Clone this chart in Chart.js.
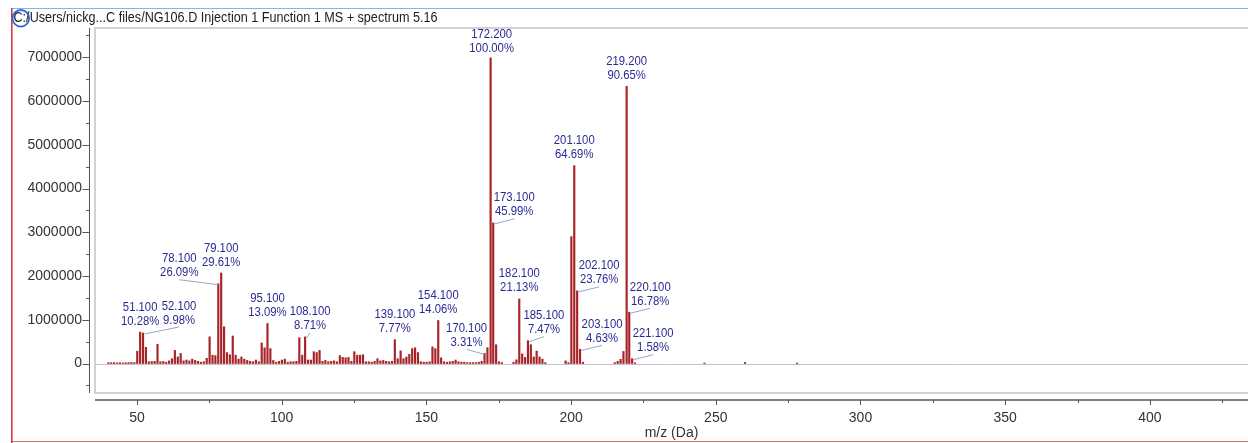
<!DOCTYPE html>
<html>
<head>
<meta charset="utf-8">
<script src="https://cdn.jsdelivr.net/npm/chart.js@4.4.1/dist/chart.umd.min.js"></script>
<style>
  html, body { margin: 0; padding: 0; background: #fff; }
  #wrap { position: relative; width: 1248px; height: 443px; }
</style>
</head>
<body>
<div id="wrap"><canvas id="ms"></canvas></div>
<script>
// stick spectrum, m/z and intensity (counts)
const mzValues = [
  40.1, 41.1, 42.1, 43.1, 44.1, 45.1, 46.1, 47.1, 48.1, 49.1,
  50.1, 51.1, 52.1, 53.1, 54.1, 55.1, 56.1, 57.1, 58.1, 59.1,
  60.1, 61.1, 62.1, 63.1, 64.1, 65.1, 66.1, 67.1, 68.1, 69.1,
  70.1, 71.1, 72.1, 73.1, 74.1, 75.1, 76.1, 77.1, 78.1, 79.1,
  80.1, 81.1, 82.1, 83.1, 84.1, 85.1, 86.1, 87.1, 88.1, 89.1,
  90.1, 91.1, 92.1, 93.1, 94.1, 95.1, 96.1, 97.1, 98.1, 99.1,
  100.1, 101.1, 102.1, 103.1, 104.1, 105.1, 106.1, 107.1, 108.1, 109.1,
  110.1, 111.1, 112.1, 113.1, 114.1, 115.1, 116.1, 117.1, 118.1, 119.1,
  120.1, 121.1, 122.1, 123.1, 124.1, 125.1, 126.1, 127.1, 128.1, 129.1,
  130.1, 131.1, 132.1, 133.1, 134.1, 135.1, 136.1, 137.1, 138.1, 139.1,
  140.1, 141.1, 142.1, 143.1, 144.1, 145.1, 146.1, 147.1, 148.1, 149.1,
  150.1, 151.1, 152.1, 153.1, 154.1, 155.1, 156.1, 157.1, 158.1, 159.1,
  160.1, 161.1, 162.1, 163.1, 164.1, 165.1, 166.1, 167.1, 168.1, 169.1,
  170.1, 171.1, 172.2, 173.1, 174.1, 175.1, 176.1, 180.1, 181.1, 182.1,
  183.1, 184.1, 185.1, 186.1, 187.1, 188.1, 189.1, 190.1, 191.1, 198.1,
  199.1, 200.1, 201.1, 202.1, 203.1, 204.1, 215.1, 216.1, 217.1, 218.1,
  219.2, 220.1, 221.1, 222.1, 246.1, 260.1, 278.1
];
const intensities = [
  20000, 18000, 22000, 15000, 20000, 15000, 18000, 22000, 25000, 20000,
  280000, 718600, 697600, 370000, 40000, 45000, 50000, 440000, 40000, 45000,
  30000, 60000, 110000, 300000, 150000, 230000, 60000, 80000, 60000, 100000,
  70000, 50000, 30000, 40000, 120000, 610000, 190000, 180000, 1823700, 2069700,
  840000, 250000, 200000, 630000, 190000, 100000, 150000, 100000, 70000, 50000,
  40000, 80000, 40000, 470000, 360000, 915000, 340000, 70000, 30000, 50000,
  80000, 100000, 30000, 40000, 40000, 50000, 590000, 190000, 608800, 80000,
  80000, 270000, 250000, 300000, 50000, 70000, 40000, 50000, 60000, 40000,
  180000, 140000, 130000, 140000, 50000, 270000, 190000, 190000, 200000, 40000,
  40000, 30000, 50000, 110000, 60000, 70000, 50000, 40000, 50000, 543100,
  110000, 290000, 110000, 150000, 210000, 340000, 360000, 250000, 40000, 30000,
  30000, 40000, 380000, 340000, 982800, 130000, 40000, 30000, 40000, 50000,
  80000, 40000, 30000, 30000, 20000, 20000, 20000, 20000, 30000, 50000,
  231400, 360000, 6990000, 3214700, 430000, 40000, 20000, 30000, 85000, 1477000,
  220000, 140000, 522200, 430000, 150000, 285000, 150000, 100000, 20000, 60000,
  20000, 2900000, 4521800, 1660800, 323600, 30000, 20000, 50000, 95000, 275000,
  6336400, 1172900, 110400, 15000, 10000, 25000, 10000
];

// annotated peaks
const labelMz = [51.1, 52.1, 78.1, 79.1, 95.1, 108.1, 139.1, 154.1, 170.1, 172.2,
  173.1, 182.1, 185.1, 201.1, 202.1, 203.1, 219.2, 220.1, 221.1];
const labelPct = ['10.28%', '9.98%', '26.09%', '29.61%', '13.09%', '8.71%', '7.77%', '14.06%', '3.31%', '100.00%',
  '45.99%', '21.13%', '7.47%', '64.69%', '23.76%', '4.63%', '90.65%', '16.78%', '1.58%'];

const xTickValues = [50, 75, 100, 125, 150, 175, 200, 225, 250, 275, 300, 325, 350, 375, 400, 425];
const yTickValues = [-500000, 0, 500000, 1000000, 1500000, 2000000, 2500000, 3000000, 3500000,
  4000000, 4500000, 5000000, 5500000, 6000000, 6500000, 7000000, 7500000];

const titleText = 'C:/Users/nickg...C files/NG106.D Injection 1 Function 1 MS + spectrum 5.16';

// label nudges (pixels) where the software moved a label aside
const labelShift = { 52.1: [36, -2], 78.1: [-39, 0], 108.1: [5, 0], 170.1: [-18, 0], 173.1: [21, 0],
  185.1: [16, 0], 202.1: [22, 0], 203.1: [22, 0], 220.1: [21, 0], 221.1: [21, 0], 172.2: [1, 2] };

const labelFont = '13px "Liberation Sans", Arial, sans-serif';

function hline(ctx, x1, x2, y) { ctx.beginPath(); ctx.moveTo(x1, y); ctx.lineTo(x2, y); ctx.stroke(); }
function vline(ctx, x, y1, y2) { ctx.beginPath(); ctx.moveTo(x, y1); ctx.lineTo(x, y2); ctx.stroke(); }

const spectrumDecor = {
  id: 'spectrumDecor',
  beforeDatasetsDraw(chart) {
    const { ctx, chartArea: a, scales: { x, y } } = chart;
    ctx.save();
    // plot frame
    ctx.strokeStyle = '#d2d2d2';
    ctx.lineWidth = 2;
    ctx.strokeRect(a.left, a.top, a.right - a.left + 4, a.bottom - a.top);
    // zero line
    ctx.strokeStyle = '#c4c4c4';
    ctx.lineWidth = 1;
    hline(ctx, a.left, a.right, Math.round(y.getPixelForValue(0)) + 0.5);

    // y axis
    ctx.strokeStyle = '#555';
    ctx.lineWidth = 1;
    const ax = a.left - 5.5;
    vline(ctx, ax, a.top, a.bottom);
    yTickValues.forEach(v => {
      const py = Math.round(y.getPixelForValue(v)) + 0.5;
      hline(ctx, ax - (v % 1000000 === 0 ? 7 : 3.5), ax, py);
    });

    // x axis
    const ay = a.bottom + 7;
    ctx.lineWidth = 1.6;
    hline(ctx, a.left, a.right, ay);
    ctx.lineWidth = 1;
    xTickValues.forEach(v => {
      const px = Math.round(x.getPixelForValue(v)) + 0.5;
      vline(ctx, px, ay, ay + (v % 50 === 0 ? 5 : 3));
    });
    ctx.restore();
  },
  afterDatasetsDraw(chart) {
    const { ctx, scales: { x, y } } = chart;
    ctx.save();
    ctx.font = labelFont;
    ctx.textAlign = 'center';
    ctx.textBaseline = 'middle';
    labelMz.forEach((m, i) => {
      const k = mzValues.indexOf(m);
      const bx = x.getPixelForValue(m);
      const top = y.getPixelForValue(intensities[k]);
      const sh = labelShift[m] || [0, 0];
      const lx = bx + sh[0];
      const l2 = top - 11 + sh[1];
      const l1 = l2 - 14;
      if (Math.abs(sh[0]) > 3) {
        ctx.strokeStyle = '#9aa2cc';
        ctx.lineWidth = 1;
        ctx.beginPath();
        ctx.moveTo(bx + (sh[0] > 0 ? 1.5 : 0), top + 1);
        ctx.lineTo(lx, l2 + 7);
        ctx.stroke();
      }
      ctx.fillStyle = '#2a2a92';
      [[m.toFixed(3), l1], [labelPct[i], l2]].forEach(([t, ty]) => {
        ctx.save();
        ctx.translate(lx, ty);
        ctx.scale(0.87, 1);
        ctx.fillText(t, 0, 0);
        ctx.restore();
      });
    });
    ctx.restore();
  },
  afterDraw(chart) {
    const { ctx, width, height } = chart;
    ctx.save();
    // window borders
    ctx.strokeStyle = '#8fb0e6';
    ctx.lineWidth = 1;
    hline(ctx, 12, width, 8.5);
    ctx.strokeStyle = '#e06a6a';
    ctx.lineWidth = 1;
    hline(ctx, 12, width, 441.5);
    ctx.strokeStyle = '#d83c3c';
    ctx.lineWidth = 1.6;
    vline(ctx, 11.8, 8, height);
    // header text
    ctx.fillStyle = '#1c1c1c';
    ctx.font = '14px "Liberation Sans", Arial, sans-serif';
    ctx.textBaseline = 'middle';
    ctx.textAlign = 'left';
    ctx.fillText(titleText, 13.5, 18.5, 424);
    // selection ring around the drive letter
    ctx.strokeStyle = '#2b68d8';
    ctx.lineWidth = 1.8;
    ctx.beginPath();
    ctx.arc(20.8, 18.3, 8.3, 0, Math.PI * 2);
    ctx.stroke();
    ctx.restore();
  }
};

new Chart(document.getElementById('ms'), {
  type: 'bar',
  data: {
    datasets: [{
      data: mzValues.map((m, i) => ({ x: m, y: intensities[i] })),
      backgroundColor: '#a62328',
      borderWidth: 0,
      barThickness: 1.5
    }]
  },
  options: {
    responsive: true,
    maintainAspectRatio: false,
    animation: false,
    layout: { padding: { top: 28, left: 0, right: 0, bottom: 0 } },
    plugins: { legend: { display: false }, tooltip: { enabled: false } },
    scales: {
      x: {
        type: 'linear',
        min: 35.5,
        max: 433.9,
        offset: false,
        grid: { display: false, drawTicks: false },
        border: { display: false },
        afterBuildTicks: s => { s.ticks = xTickValues.map(v => ({ value: v })); },
        afterFit: s => { s.height = 50; },
        ticks: {
          autoSkip: false,
          maxRotation: 0,
          padding: 17,
          color: '#333',
          font: { family: '"Liberation Sans", Arial, sans-serif', size: 14 },
          callback: v => (v % 50 === 0 ? String(v) : '')
        },
        title: {
          display: true,
          text: 'm/z (Da)',
          color: '#333',
          font: { family: '"Liberation Sans", Arial, sans-serif', size: 14 },
          padding: { top: 0, bottom: 1 }
        }
      },
      y: {
        min: -674000,
        max: 7669000,
        grid: { display: false, drawTicks: false },
        border: { display: false },
        afterBuildTicks: s => { s.ticks = yTickValues.map(v => ({ value: v })); },
        afterFit: s => { s.width = 95; },
        ticks: {
          autoSkip: false,
          padding: 13,
          color: '#333',
          font: { family: '"Liberation Sans", Arial, sans-serif', size: 14 },
          callback: v => (v % 1000000 === 0 ? String(v) : '')
        }
      }
    }
  },
  plugins: [spectrumDecor]
});
</script>
</body>
</html>
